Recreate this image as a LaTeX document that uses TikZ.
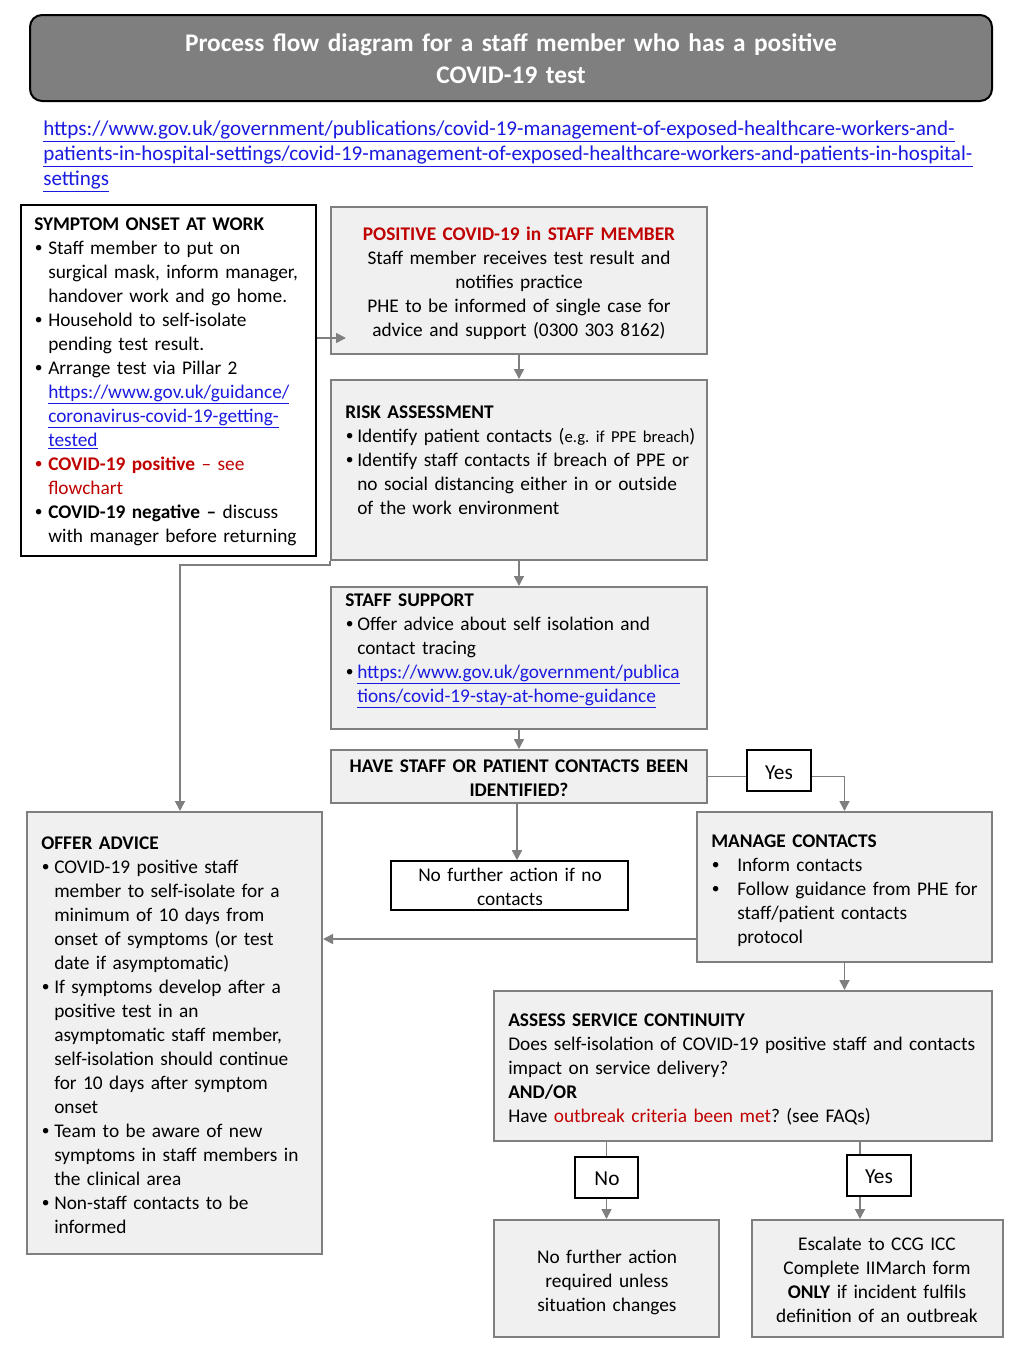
\documentclass[tikz,border=0pt]{standalone}
\usepackage{fontspec}
\setmainfont{Carlito}
\usetikzlibrary{arrows.meta,fit}
\definecolor{lgray}{HTML}{F0F0F0}
\definecolor{bgray}{HTML}{7F7F7F}
\definecolor{tgray}{HTML}{7F7F7F}
\definecolor{lnk}{HTML}{1A1AE0}
\definecolor{rd}{HTML}{C00000}
\frenchspacing
\newcommand\lk[1]{\textcolor{lnk}{\underline{#1}}}
\newcommand\bu[1]{\makebox[#1][l]{\hspace*{0.5pt}\raisebox{0.12ex}{\scalebox{0.8}{•}}}}
\newcommand\ind[1]{\hspace*{#1}}
\newcommand\body{\fontsize{14.5}{18}\selectfont}
\newcommand\yn{\fontsize{16}{18}\selectfont}
\begin{document}
\begin{tikzpicture}[x=0.75pt,y=-0.75pt,
  box/.style={draw=bgray,line width=1.5pt,fill=lgray,inner sep=0pt},
  wbox/.style={draw=black,line width=1.2pt,fill=white,inner sep=0pt},
  txt/.style={inner sep=0pt,anchor=base west,align=left,text width=#1,font=\body},
  ctxt/.style={inner sep=0pt,anchor=base,align=center,text width=#1,font=\body},
  ln/.style={draw=bgray,line width=1.2pt},
  arr/.style={draw=bgray,line width=1.2pt,-{Triangle[length=7.5pt,width=7.5pt]}}]
\useasboundingbox (0,0) rectangle (1024,1365);
\fill[white] (0,0) rectangle (1024,1365);

% title
\draw[fill=tgray,draw=black,line width=1.5pt,rounded corners=9pt] (30,15) rectangle (992,101);
\node[ctxt=640pt,text=white,font={\fontsize{19}{24}\selectfont\bfseries}] (title) at (511,51)
  {Process flow diagram for a staff member who has a positive\\COVID-19 test};

% url
\node[inner sep=0pt,anchor=base west,align=left,text width=740pt,font={\fontsize{15.8}{18.75}\selectfont}] (url) at (43,135.5)
  {\lk{https://www.gov.uk/government/publications/covid-19-management-of-exposed-healthcare-workers-and-}\\
   \lk{patients-in-hospital-settings/covid-19-management-of-exposed-healthcare-workers-and-patients-in-hospital-}\\
   \lk{settings}};

% boxes
\node[wbox,fit={(21,205) (316,556)}] (sym) {};
\node[box,fit={(331,207) (707,354)}] (pos) {};
\node[box,fit={(331,380) (707,560)}] (risk) {};
\node[box,fit={(331,587) (707,729)}] (sup) {};
\node[box,fit={(331,750) (707,803)}] (have) {};
\node[wbox,fit={(747,750) (811,791)}] (yes1) {};
\node[box,fit={(697,812) (992,962)}] (man) {};
\node[box,fit={(27,812) (322,1254)}] (off) {};
\node[wbox,fit={(391,861) (628,910)}] (nfa1) {};
\node[box,fit={(494,991) (992,1141)}] (ass) {};
\node[wbox,fit={(575,1157) (638,1198)}] (no) {};
\node[wbox,fit={(847,1155) (911,1196)}] (yes2) {};
\node[box,fit={(494,1220) (719,1337)}] (nfa2) {};
\node[box,fit={(752,1220) (1003,1337)}] (esc) {};

% texts
\node[txt=280pt] (symt) at (34,230)
  {\textbf{SYMPTOM ONSET AT WORK}\\
   \bu{10.5pt}Staff member to put on\\
   \ind{10.5pt}surgical mask, inform manager,\\
   \ind{10.5pt}handover work and go home.\\
   \bu{10.5pt}Household to self-isolate\\
   \ind{10.5pt}pending test result.\\
   \bu{10.5pt}Arrange test via Pillar 2\\
   \ind{10.5pt}\lk{https://www.gov.uk/guidance/}\\
   \ind{10.5pt}\lk{coronavirus-covid-19-getting-}\\
   \ind{10.5pt}\lk{tested}\\
   \textcolor{rd}{\bu{10.5pt}\textbf{COVID-19 positive} – see}\\
   \ind{10.5pt}\textcolor{rd}{flowchart}\\
   \bu{10.5pt}\textbf{COVID-19 negative –} discuss\\
   \ind{10.5pt}with manager before returning};

\node[ctxt=280pt] (post) at (519,240)
  {\textcolor{rd}{\textbf{POSITIVE COVID-19 in STAFF MEMBER}}\\
   Staff member receives test result and\\
   notifies practice\\
   PHE to be informed of single case for\\
   advice and support (0300 303 8162)};

\node[txt=290pt] (riskt) at (345,418)
  {\textbf{RISK ASSESSMENT}\\
   \bu{9pt}Identify patient contacts ({\fontsize{12.5}{18}\selectfont e.g. if PPE breach})\\
   \bu{9pt}Identify staff contacts if breach of PPE or\\
   \ind{9pt}no social distancing either in or outside\\
   \ind{9pt}of the work environment};

\node[txt=290pt] (supt) at (345,606)
  {\textbf{STAFF SUPPORT}\\
   \bu{9pt}Offer advice about self isolation and\\
   \ind{9pt}contact tracing\\
   \bu{9pt}\lk{https://www.gov.uk/government/publica}\\
   \ind{9pt}\lk{tions/covid-19-stay-at-home-guidance}};

\node[ctxt=280pt] (havet) at (519,772)
  {\textbf{HAVE STAFF OR PATIENT CONTACTS BEEN}\\\textbf{IDENTIFIED?}};

\node[ctxt=40pt,font=\yn] (yes1t) at (779,779) {Yes};

\node[txt=220pt] (mant) at (711,847)
  {\textbf{MANAGE CONTACTS}\\
   \bu{19.5pt}Inform contacts\\
   \bu{19.5pt}Follow guidance from PHE for\\
   \ind{19.5pt}staff/patient contacts\\
   \ind{19.5pt}protocol};

\node[txt=220pt] (offt) at (41,849)
  {\textbf{OFFER ADVICE}\\
   \bu{9.75pt}COVID-19 positive staff\\
   \ind{9.75pt}member to self-isolate for a\\
   \ind{9.75pt}minimum of 10 days from\\
   \ind{9.75pt}onset of symptoms (or test\\
   \ind{9.75pt}date if asymptomatic)\\
   \bu{9.75pt}If symptoms develop after a\\
   \ind{9.75pt}positive test in an\\
   \ind{9.75pt}asymptomatic staff member,\\
   \ind{9.75pt}self-isolation should continue\\
   \ind{9.75pt}for 10 days after symptom\\
   \ind{9.75pt}onset\\
   \bu{9.75pt}Team to be aware of new\\
   \ind{9.75pt}symptoms in staff members in\\
   \ind{9.75pt}the clinical area\\
   \bu{9.75pt}Non-staff contacts to be\\
   \ind{9.75pt}informed};

\node[ctxt=170pt] (nfa1t) at (510,881) {No further action if no\\contacts};

\node[txt=370pt] (asst) at (508,1026)
  {\textbf{ASSESS SERVICE CONTINUITY}\\
   Does self-isolation of COVID-19 positive staff and contacts\\
   impact on service delivery?\\
   \textbf{AND/OR}\\
   Have \textcolor{rd}{outbreak criteria been met}? (see FAQs)};

\node[ctxt=40pt,font=\yn] (not) at (607,1185) {No};
\node[ctxt=40pt,font=\yn] (yes2t) at (879,1183) {Yes};

\node[ctxt=160pt] (nfa2t) at (607,1263) {No further action\\required unless\\situation changes};
\node[ctxt=180pt] (esct) at (877,1250) {Escalate to CCG ICC\\Complete IIMarch form\\\textbf{ONLY} if incident fulfils\\definition of an outbreak};

% connectors
\coordinate (c1) at (346,338);
\draw[arr] (sym.east |- c1) -- (c1);
\draw[arr] (pos.south) -- (risk.north);
\draw[arr] (risk.south) -- (sup.north);
\draw[arr] (sup.south) -- (have.north);
\draw[ln] (have.east) -- (have.east -| yes1.west);
\draw[arr] (have.east -| yes1.east) -| (man.north);
\coordinate (c5) at (517,0);
\draw[arr] (have.south -| c5) -- (nfa1.north -| c5);
\coordinate (c2) at (0,939);
\draw[arr] (man.west |- c2) -- (off.east |- c2);
\draw[arr] (man.south) -- (man.south |- ass.north);
\coordinate (c3) at (180,0);
\draw[arr] (risk.south west) -- ++(0,4) -| (off.north -| c3);
\draw[ln] (ass.south -| no.north) -- (no.north);
\draw[arr] (no.south) -- (nfa2.north);
\coordinate (c4) at (860,0);
\draw[ln] (ass.south -| c4) -- (yes2.north -| c4);
\draw[arr] (yes2.south -| c4) -- (esc.north -| c4);
\end{tikzpicture}
\end{document}
